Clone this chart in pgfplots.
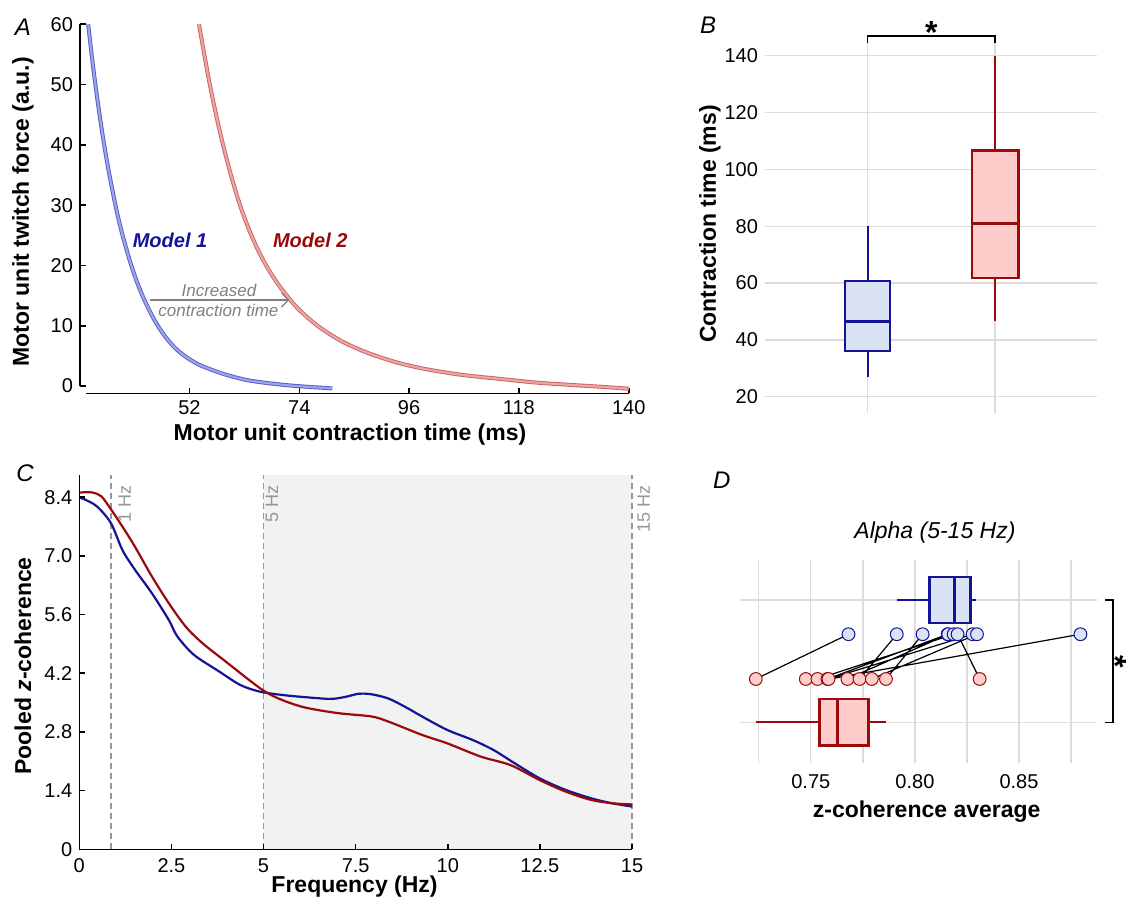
\documentclass[border=0pt]{standalone}
\usepackage{fontspec}
\setmainfont{Liberation Sans}
\usepackage{pgfplots}
\pgfplotsset{compat=1.18}
\usepgfplotslibrary{statistics}
\usetikzlibrary{arrows.meta}

\definecolor{dblue}{RGB}{20,20,150}
\definecolor{dred}{RGB}{155,10,10}
\definecolor{lblue}{RGB}{218,227,243}
\definecolor{lred}{RGB}{255,204,204}
\definecolor{cblue}{RGB}{80,92,205}
\definecolor{cred}{RGB}{210,95,95}
\definecolor{gridc}{RGB}{220,220,220}
\definecolor{shadec}{RGB}{242,242,242}
\definecolor{dashc}{RGB}{150,150,150}
\definecolor{txtgray}{RGB}{128,128,128}

\pgfplotsset{
  /pgf/number format/assume math mode=true,
  every tick label/.append style={font=\fontsize{10}{12}\selectfont},
  every axis label/.append style={font=\fontsize{11.5}{13}\selectfont\bfseries},
  scale only axis,
}

\begin{document}
\begin{tikzpicture}
\useasboundingbox (0,0) rectangle (563.5pt,450pt);

% ---------- A ----------
\begin{axis}[at={(40pt,253.35pt)}, anchor=south west,
  width=274.35pt, height=184.5pt,
  xmin=30.06, xmax=140, ymin=-1.21, ymax=60,
  axis x line*=bottom, axis y line*=left,
  x axis line style={shorten <=3.25pt, line width=0.8pt},
  y axis line style={shorten <=3.65pt, line width=0.8pt},
  xtick={52,74,96,118,140}, ytick={0,10,...,60},
  tick align=inside, major tick length=2.8pt,
  tick style={black, line width=0.8pt},
  xlabel={Motor unit contraction time (ms)},
  ylabel={Motor unit twitch force (a.u.)},
  xlabel style={at={(axis description cs:0.492,-0.113)}, anchor=center},
  ylabel style={at={(axis description cs:-0.104,0.492)}, anchor=center},
  clip=false]
\addplot[smooth, draw=cblue, line width=0.45pt, double=cblue!55!white, double distance=1.1pt]
  coordinates {(31.7,60) (32.5,54.2) (33.5,47.8) (34.5,42.1) (35.5,37.1) (36.5,32.7)
  (37.5,28.7) (38.5,25.3) (40,20.9) (41.5,17.2) (43,14.2) (45,10.9) (47,8.35)
  (49,6.4) (51,5.0) (54,3.5) (58.8,2.0) (63.4,1.0) (68,0.45) (72,0.1) (76,-0.15)
  (80.6,-0.4)};
\addplot[smooth, draw=cred, line width=0.45pt, double=cred!55!white, double distance=1.1pt]
  coordinates {(53.9,60) (56,50.3) (58,42.5) (60,35.9) (62,30.3) (64,25.8) (66,22.1)
  (68,19.1) (70,16.6) (73,13.5) (76,11.1) (79,9.2) (83,7.2) (88,5.4) (94,3.8)
  (100,2.7) (107,1.8) (114,1.2) (121,0.6) (128,0.2) (134,-0.1) (140,-0.45)};
\node[font=\fontsize{10}{12}\selectfont\bfseries\itshape, text=dblue] at (axis cs:48.1,24.2) {Model 1};
\node[font=\fontsize{10}{12}\selectfont\bfseries\itshape, text=dred] at (axis cs:76.2,24.2) {Model 2};
\draw[txtgray, line width=0.6pt, -{Straight Barb[length=3.5pt,width=7pt]}] (axis cs:44.13,14.25) -- (axis cs:72.0,14.25);
\node[font=\fontsize{8.5}{10}\selectfont\itshape, text=txtgray] at (axis cs:57.9,15.9) {Increased};
\node[font=\fontsize{8.5}{10}\selectfont\itshape, text=txtgray] at (axis cs:57.8,12.6) {contraction time};
\end{axis}

% ---------- B ----------
\begin{axis}[at={(382.5pt,243.5pt)}, anchor=south west,
  width=166pt, height=185pt,
  xmin=0.193, xmax=2.801, ymin=14.26, ymax=144.47,
  axis line style={draw=none}, tick style={draw=none},
  xtick={1,2}, xticklabels={,,}, ytick={20,40,...,140},
  grid=major, major grid style={color=gridc, line width=0.65pt},
  ylabel={Contraction time (ms)},
  ylabel style={at={(axis description cs:-0.166,0.511)}, anchor=center},
  clip=false]
% Model 1 box
\addplot[dblue, line width=1.2pt] coordinates {(1,27.0) (1,36.1)};
\addplot[dblue, line width=1.2pt] coordinates {(1,60.7) (1,80.1)};
\addplot[draw=dblue, fill=lblue, line width=1.2pt, line join=miter]
  coordinates {(0.823,36.1) (1.177,36.1) (1.177,60.7) (0.823,60.7)} -- cycle;
\addplot[dblue, line width=1.2pt] coordinates {(0.823,46.4) (1.177,46.4)};
% Model 2 box
\addplot[dred, line width=1.2pt] coordinates {(2,46.7) (2,61.7)};
\addplot[dred, line width=1.2pt] coordinates {(2,106.7) (2,140)};
\addplot[draw=dred, fill=lred, line width=1.2pt, line join=miter]
  coordinates {(1.817,61.7) (2.183,61.7) (2.183,106.7) (1.817,106.7)} -- cycle;
\addplot[dred, line width=1.2pt] coordinates {(1.817,81.0) (2.183,81.0)};
\draw[black, line width=0.6pt] (axis cs:1,144.5) -- (axis cs:1,146.9) -- (axis cs:2,146.9) -- (axis cs:2,144.5);
\node[anchor=base, font=\fontsize{16}{16}\selectfont\bfseries] at (axis cs:1.5,144.3) {*};
\end{axis}

% ---------- C ----------
\begin{axis}[at={(39.65pt,25.35pt)}, anchor=south west,
  width=276.35pt, height=187.15pt,
  xmin=0, xmax=15, ymin=0, ymax=8.93,
  axis x line*=bottom, axis y line*=left,
  axis line style={line width=0.8pt},
  xtick={0,2.5,5,7.5,10,12.5,15}, xticklabels={0,2.5,5,7.5,10,12.5,15},
  ytick={0,1.4,2.8,4.2,5.6,7,8.4}, yticklabels={0,1.4,2.8,4.2,5.6,7.0,8.4},
  tick align=inside, major tick length=2.8pt,
  tick style={black, line width=0.8pt},
  xticklabel style={yshift=-1pt},
  xlabel={Frequency (Hz)},
  ylabel={Pooled \textit{z}-coherence},
  xlabel style={at={(axis description cs:0.498,-0.100)}, anchor=center},
  ylabel style={at={(axis description cs:-0.102,0.490)}, anchor=center},
  axis on top, clip=false]
\fill[shadec] (axis cs:5,0) rectangle (axis cs:15,8.93);
\draw[dashc, line width=0.6pt, dash pattern=on 3pt off 2pt] (axis cs:0.86,0) -- (axis cs:0.86,8.93);
\draw[dashc, line width=0.6pt, dash pattern=on 3pt off 2pt] (axis cs:5,0) -- (axis cs:5,8.93);
\draw[dashc, line width=0.6pt, dash pattern=on 3pt off 2pt] (axis cs:15,0) -- (axis cs:15,8.93);
\node[rotate=90, anchor=east, text=dashc, font=\fontsize{9}{10}\selectfont] at (axis cs:1.23,8.84) {1 Hz};
\node[rotate=90, anchor=east, text=dashc, font=\fontsize{9}{10}\selectfont] at (axis cs:5.23,8.84) {5 Hz};
\node[rotate=90, anchor=east, text=dashc, font=\fontsize{9}{10}\selectfont] at (axis cs:15.32,8.84) {15 Hz};
\addplot[smooth, dblue, line width=1.1pt] coordinates {
  (0,8.39) (0.14,8.35) (0.48,8.18) (0.86,7.78) (1.17,7.14) (1.51,6.67) (1.97,6.11)
  (2.43,5.47) (2.66,5.08) (3.11,4.64) (3.80,4.24) (4.37,3.92) (4.91,3.76) (5.63,3.67)
  (6.55,3.60) (6.89,3.59) (7.24,3.64) (7.58,3.71) (7.92,3.70) (8.38,3.60) (8.84,3.40)
  (9.30,3.17) (9.98,2.85) (10.67,2.61) (11.24,2.37) (11.82,2.05) (12.50,1.69)
  (13.19,1.42) (13.88,1.22) (14.45,1.10) (15.0,1.02)};
\addplot[smooth, dred, line width=1.1pt] coordinates {
  (0,8.51) (0.2,8.52) (0.37,8.51) (0.6,8.42) (0.86,8.11) (1.17,7.70) (1.51,7.22)
  (1.97,6.51) (2.43,5.87) (2.89,5.31) (3.34,4.92) (4.03,4.44) (4.91,3.84) (5.40,3.60)
  (6.09,3.39) (7.01,3.25) (7.92,3.17) (8.38,3.05) (9.30,2.73) (9.98,2.53) (10.90,2.21)
  (11.70,2.01) (12.50,1.65) (13.19,1.38) (13.88,1.18) (14.45,1.10) (15.0,1.07)};
\end{axis}

% ---------- D ----------
\begin{axis}[at={(370pt,68.5pt)}, anchor=south west,
  width=178.65pt, height=101.5pt,
  xmin=0.716, xmax=0.8876, ymin=0.667, ymax=2.327,
  axis line style={draw=none}, tick style={draw=none},
  xtick={0.75,0.8,0.85}, xticklabels={0.75,0.80,0.85},
  minor xtick={0.725,0.775,0.825,0.875},
  ytick={1,2}, yticklabels={,,},
  grid=both, major grid style={color=gridc, line width=0.65pt},
  minor grid style={color=gridc, line width=0.65pt},
  xticklabel style={yshift=-2pt},
  xlabel={z-coherence average},
  xlabel style={at={(axis description cs:0.5225,-0.24)}, anchor=center},
  title={Alpha (5-15 Hz)},
  title style={at={(axis description cs:0.5457,1.074)}, anchor=center,
    font=\fontsize{11.5}{13}\selectfont\itshape},
  clip=false]
\addplot[draw=dblue, fill=lblue, line width=1.2pt,
  boxplot prepared={draw direction=x, draw position=2, lower whisker=0.7913,
  lower quartile=0.807, median=0.819, upper quartile=0.8266, upper whisker=0.8293,
  box extend=0.376, whisker extend=0}]
  coordinates {};
\addplot[draw=dred, fill=lred, line width=1.2pt,
  boxplot prepared={draw direction=x, draw position=1, lower whisker=0.7237,
  lower quartile=0.7541, median=0.7628, upper quartile=0.7777, upper whisker=0.7861,
  box extend=0.38, whisker extend=0}]
  coordinates {};
\addplot[black, line width=0.6pt, unbounded coords=jump] coordinates {
  (0.7681,1.72) (0.7236,1.354) (nan,nan)
  (0.7913,1.72) (0.7734,1.354) (nan,nan)
  (0.8037,1.72) (0.7861,1.354) (nan,nan)
  (0.8157,1.72) (0.7580,1.354) (nan,nan)
  (0.8160,1.72) (0.7676,1.354) (nan,nan)
  (0.8186,1.72) (0.7532,1.354) (nan,nan)
  (0.8205,1.72) (0.8311,1.354) (nan,nan)
  (0.8277,1.72) (0.7585,1.354) (nan,nan)
  (0.8298,1.72) (0.7793,1.354) (nan,nan)
  (0.8795,1.72) (0.7590,1.354)};
\addplot[only marks, mark=*, mark size=3.2pt, mark options={fill=lred, draw=dred, line width=0.5pt}]
  coordinates {(0.7236,1.354) (0.7476,1.354) (0.7532,1.354) (0.7580,1.354) (0.7585,1.354)
  (0.7676,1.354) (0.7734,1.354) (0.7793,1.354) (0.7861,1.354) (0.8311,1.354)};
\addplot[only marks, mark=*, mark size=3.2pt, mark options={fill=lblue, draw=dblue, line width=0.5pt}]
  coordinates {(0.7681,1.72) (0.7913,1.72) (0.8037,1.72) (0.8157,1.72) (0.8160,1.72)
  (0.8186,1.72) (0.8205,1.72) (0.8277,1.72) (0.8298,1.72) (0.8795,1.72)};
\draw[black, line width=0.7pt] (axis cs:0.8915,2) -- (axis cs:0.8952,2) -- (axis cs:0.8952,1) -- (axis cs:0.8915,1);
\node[rotate=-90, font=\fontsize{16}{16}\selectfont\bfseries] at (axis cs:0.8965,1.493) {*};
\end{axis}

% panel letters
\node[font=\fontsize{12}{14}\selectfont\itshape] at (11.5pt,436.5pt) {A};
\node[font=\fontsize{12}{14}\selectfont\itshape] at (354pt,437.5pt) {B};
\node[font=\fontsize{12}{14}\selectfont\itshape] at (12.5pt,213.5pt) {C};
\node[font=\fontsize{12}{14}\selectfont\itshape] at (360.85pt,210pt) {D};
\end{tikzpicture}
\end{document}
